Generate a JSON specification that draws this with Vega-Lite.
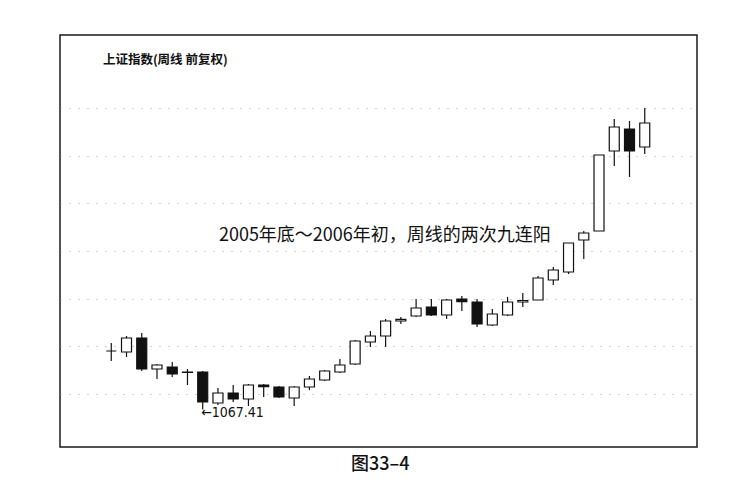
{
  "$schema": "https://vega.github.io/schema/vega-lite/v6.json",
  "autosize": {"type": "none"},
  "width": 637,
  "height": 412,
  "padding": {"left": 60, "top": 35, "right": 56, "bottom": 48},
  "background": "white",
  "config": {
    "view": {"stroke": "#1a1a1a", "strokeWidth": 1.5},
    "font": "Noto Sans CJK SC"
  },
  "datasets": {
    "weeks": [
      {"i": 1, "o": 1190.2, "h": 1207.0, "l": 1169.2, "c": 1190.2},
      {"i": 2, "o": 1188.1, "h": 1221.7, "l": 1177.6, "c": 1217.5},
      {"i": 3, "o": 1217.5, "h": 1228.0, "l": 1148.3, "c": 1152.5},
      {"i": 4, "o": 1152.5, "h": 1162.9, "l": 1131.5, "c": 1160.8},
      {"i": 5, "o": 1156.6, "h": 1167.1, "l": 1135.7, "c": 1142.0},
      {"i": 6, "o": 1146.2, "h": 1152.5, "l": 1118.9, "c": 1145.2},
      {"i": 7, "o": 1146.2, "h": 1148.3, "l": 1067.41, "c": 1083.2},
      {"i": 8, "o": 1081.1, "h": 1112.6, "l": 1076.9, "c": 1102.1},
      {"i": 9, "o": 1102.1, "h": 1118.9, "l": 1083.2, "c": 1089.5},
      {"i": 10, "o": 1089.5, "h": 1121.0, "l": 1074.8, "c": 1118.9},
      {"i": 11, "o": 1118.9, "h": 1121.0, "l": 1093.7, "c": 1115.5},
      {"i": 12, "o": 1114.7, "h": 1116.8, "l": 1091.6, "c": 1093.7},
      {"i": 13, "o": 1091.6, "h": 1116.8, "l": 1074.8, "c": 1114.7},
      {"i": 14, "o": 1114.7, "h": 1137.8, "l": 1108.4, "c": 1131.5},
      {"i": 15, "o": 1129.4, "h": 1150.4, "l": 1127.3, "c": 1148.3},
      {"i": 16, "o": 1146.2, "h": 1173.4, "l": 1144.1, "c": 1160.8},
      {"i": 17, "o": 1162.9, "h": 1213.3, "l": 1160.8, "c": 1211.2},
      {"i": 18, "o": 1209.1, "h": 1232.2, "l": 1198.6, "c": 1221.7},
      {"i": 19, "o": 1221.7, "h": 1257.4, "l": 1198.6, "c": 1253.2},
      {"i": 20, "o": 1253.2, "h": 1261.5, "l": 1246.9, "c": 1256.4},
      {"i": 21, "o": 1263.6, "h": 1299.3, "l": 1261.5, "c": 1280.4},
      {"i": 22, "o": 1282.5, "h": 1299.3, "l": 1263.6, "c": 1265.7},
      {"i": 23, "o": 1265.7, "h": 1299.3, "l": 1257.4, "c": 1297.2},
      {"i": 24, "o": 1299.3, "h": 1305.6, "l": 1274.1, "c": 1293.9},
      {"i": 25, "o": 1293.0, "h": 1299.3, "l": 1240.6, "c": 1246.9},
      {"i": 26, "o": 1244.8, "h": 1278.3, "l": 1242.7, "c": 1267.8},
      {"i": 27, "o": 1265.7, "h": 1303.5, "l": 1263.6, "c": 1293.0},
      {"i": 28, "o": 1293.0, "h": 1311.9, "l": 1282.5, "c": 1296.2},
      {"i": 29, "o": 1297.2, "h": 1347.6, "l": 1297.2, "c": 1343.4},
      {"i": 30, "o": 1339.2, "h": 1366.4, "l": 1328.7, "c": 1360.2},
      {"i": 31, "o": 1356.0, "h": 1416.8, "l": 1351.8, "c": 1416.8},
      {"i": 32, "o": 1423.1, "h": 1442.0, "l": 1383.2, "c": 1437.8},
      {"i": 33, "o": 1442.0, "h": 1601.4, "l": 1442.0, "c": 1601.4},
      {"i": 34, "o": 1609.8, "h": 1676.9, "l": 1578.3, "c": 1660.2},
      {"i": 35, "o": 1656.0, "h": 1672.8, "l": 1555.3, "c": 1609.8},
      {"i": 36, "o": 1618.2, "h": 1700.0, "l": 1603.5, "c": 1668.6}
    ]
  },
  "layer": [
    {
      "data": {"name": "weeks"},
      "mark": {"type": "rule", "color": "#111", "strokeWidth": 1.2},
      "encoding": {
        "x": {
          "field": "i",
          "type": "quantitative",
          "scale": {"domain": [-2.035, 39.1], "nice": false, "zero": false},
          "axis": null
        },
        "y": {
          "field": "l",
          "type": "quantitative",
          "scale": {"domain": [988.8, 1853.2], "nice": false, "zero": false},
          "axis": {
            "values": [1100, 1200, 1300, 1400, 1500, 1600, 1700],
            "grid": true,
            "gridColor": "#a0a0a0",
            "gridDash": [1, 8],
            "gridWidth": 1,
            "labels": false,
            "ticks": false,
            "domain": false,
            "title": null
          }
        },
        "y2": {"field": "h"}
      }
    },
    {
      "data": {"name": "weeks"},
      "mark": {"type": "bar", "size": 10, "stroke": "#111", "strokeWidth": 1.2},
      "encoding": {
        "x": {"field": "i", "type": "quantitative"},
        "y": {"field": "o", "type": "quantitative"},
        "y2": {"field": "c"},
        "fill": {
          "condition": {"test": "datum.c >= datum.o", "value": "white"},
          "value": "#111"
        }
      }
    },
    {
      "data": {"values": [{"label": "上证指数(周线 前复权)"}]},
      "mark": {"type": "text", "align": "left", "baseline": "middle", "fontSize": 12.5, "fontWeight": "bold", "font": "Noto Sans CJK SC", "color": "#111"},
      "encoding": {
        "x": {"datum": 0.45},
        "y": {"datum": 1800},
        "text": {"field": "label"}
      }
    },
    {
      "data": {"values": [{"label": "2005年底～2006年初，周线的两次九连阳"}]},
      "mark": {"type": "text", "align": "center", "baseline": "middle", "fontSize": 18, "font": "Noto Sans CJK SC", "color": "#111"},
      "encoding": {
        "x": {"datum": 18.95},
        "y": {"datum": 1431},
        "text": {"field": "label"}
      }
    },
    {
      "data": {"values": [{"label": "←1067.41"}]},
      "mark": {"type": "text", "align": "left", "baseline": "middle", "fontSize": 14, "font": "DejaVu Sans Condensed, Liberation Sans Narrow, Roboto, Noto Sans", "color": "#111"},
      "encoding": {
        "x": {"datum": 6.9},
        "y": {"datum": 1060},
        "text": {"field": "label"}
      }
    },
    {
      "data": {"values": [{"label": "图33–4"}]},
      "mark": {"type": "text", "align": "center", "baseline": "middle", "fontSize": 18, "fontWeight": 500, "font": "Noto Sans CJK SC", "color": "#111", "clip": false},
      "encoding": {
        "x": {"datum": 18.65},
        "y": {"datum": 951},
        "text": {"field": "label"}
      }
    }
  ]
}
